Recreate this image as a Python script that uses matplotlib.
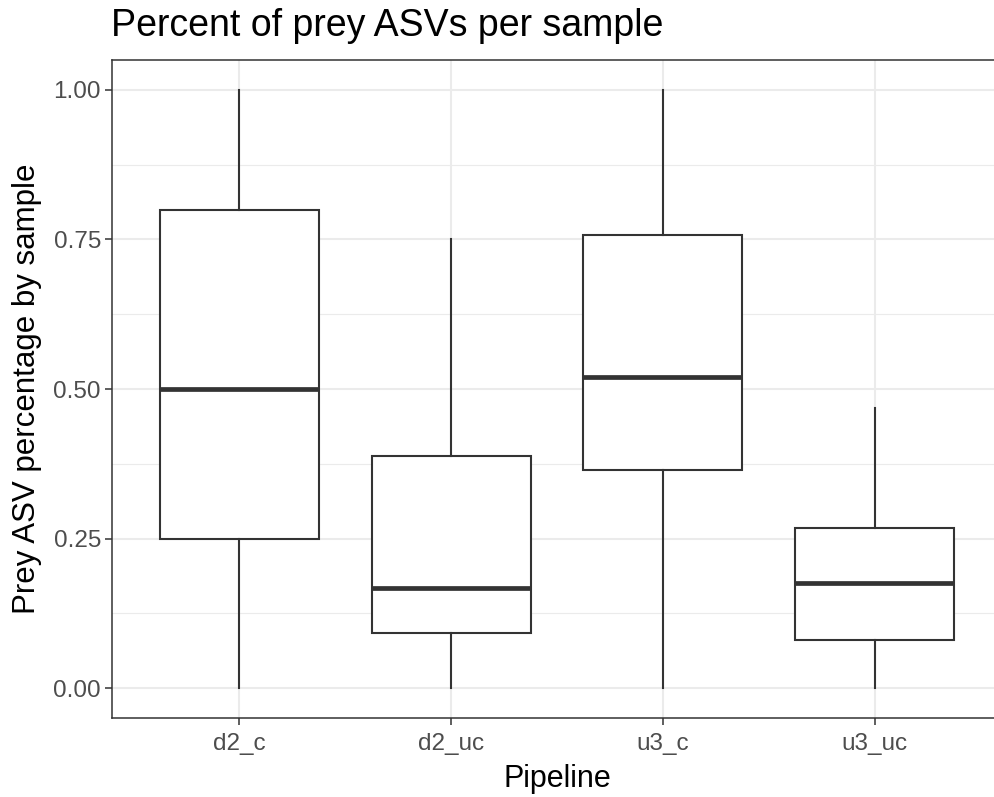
"""
Boxplot of prey ASV percentage per sample, by pipeline
"""

import matplotlib
matplotlib.use('Agg')
import matplotlib.pyplot as plt
import numpy as np

# data
pipelines = ['d2_c', 'd2_uc', 'u3_c', 'u3_uc']
whisker_low = [0.0, 0.0, 0.0, 0.0]
q1 = [0.25, 0.092, 0.365, 0.08]
medians = [0.50, 0.167, 0.52, 0.175]
q3 = [0.80, 0.388, 0.757, 0.268]
whisker_high = [1.0, 0.75, 1.0, 0.468]
y_ticks = [0.0, 0.25, 0.5, 0.75, 1.0]
y_tick_labels = ['0.00', '0.25', '0.50', '0.75', '1.00']

plt.rcParams['font.family'] = ['Liberation Sans', 'DejaVu Sans']

stats = []
for i in range(len(pipelines)):
    stats.append({'label': pipelines[i], 'whislo': whisker_low[i], 'q1': q1[i],
                  'med': medians[i], 'q3': q3[i], 'whishi': whisker_high[i],
                  'fliers': []})

fig = plt.figure(figsize=(9.95, 7.97), dpi=100)
W, H = 995.0, 797.0
ax = fig.add_axes([112 / W, 1 - 718 / H, 890 / W, 658 / H])

line_col = '#333333'
ax.bxp(stats, positions=np.arange(1, len(pipelines) + 1), widths=0.75,
       showfliers=False, showcaps=False, patch_artist=True,
       boxprops=dict(facecolor='white', edgecolor=line_col, linewidth=1.5),
       whiskerprops=dict(color=line_col, linewidth=1.5),
       medianprops=dict(color=line_col, linewidth=3.4, solid_capstyle='butt'),
       zorder=3)

ax.set_xlim(0.4, 4.6)
ax.set_ylim(-0.05, 1.05)
ax.set_xticks(np.arange(1, len(pipelines) + 1))
ax.set_xticklabels(pipelines)
ax.set_yticks(y_ticks)
ax.set_yticklabels(y_tick_labels)
ax.set_yticks([0.125, 0.375, 0.625, 0.875], minor=True)

ax.grid(True, which='major', color='#EBEBEB', linewidth=1.5, zorder=0)
ax.grid(True, which='minor', axis='y', color='#EBEBEB', linewidth=0.8, zorder=0)
ax.set_axisbelow(True)
ax.tick_params(axis='both', which='major', colors='#333333', labelcolor='#4D4D4D',
               labelsize=17.5, length=5, width=1.1, pad=3)
ax.tick_params(axis='x', which='major', pad=6)
ax.tick_params(axis='y', which='minor', length=0)
for s in ax.spines.values():
    s.set_color('#333333')
    s.set_linewidth(1.1)

ax.set_xlabel('Pipeline', fontsize=22, color='black', labelpad=6)
ax.set_ylabel('Prey ASV percentage by sample', fontsize=22.5, color='black', labelpad=8)
fig.text(111 / W, 1 - 26 / H, 'Percent of prey ASVs per sample', fontsize=27,
         ha='left', va='center', color='black')

plt.savefig('out.png', dpi=100)
plt.close(fig)
